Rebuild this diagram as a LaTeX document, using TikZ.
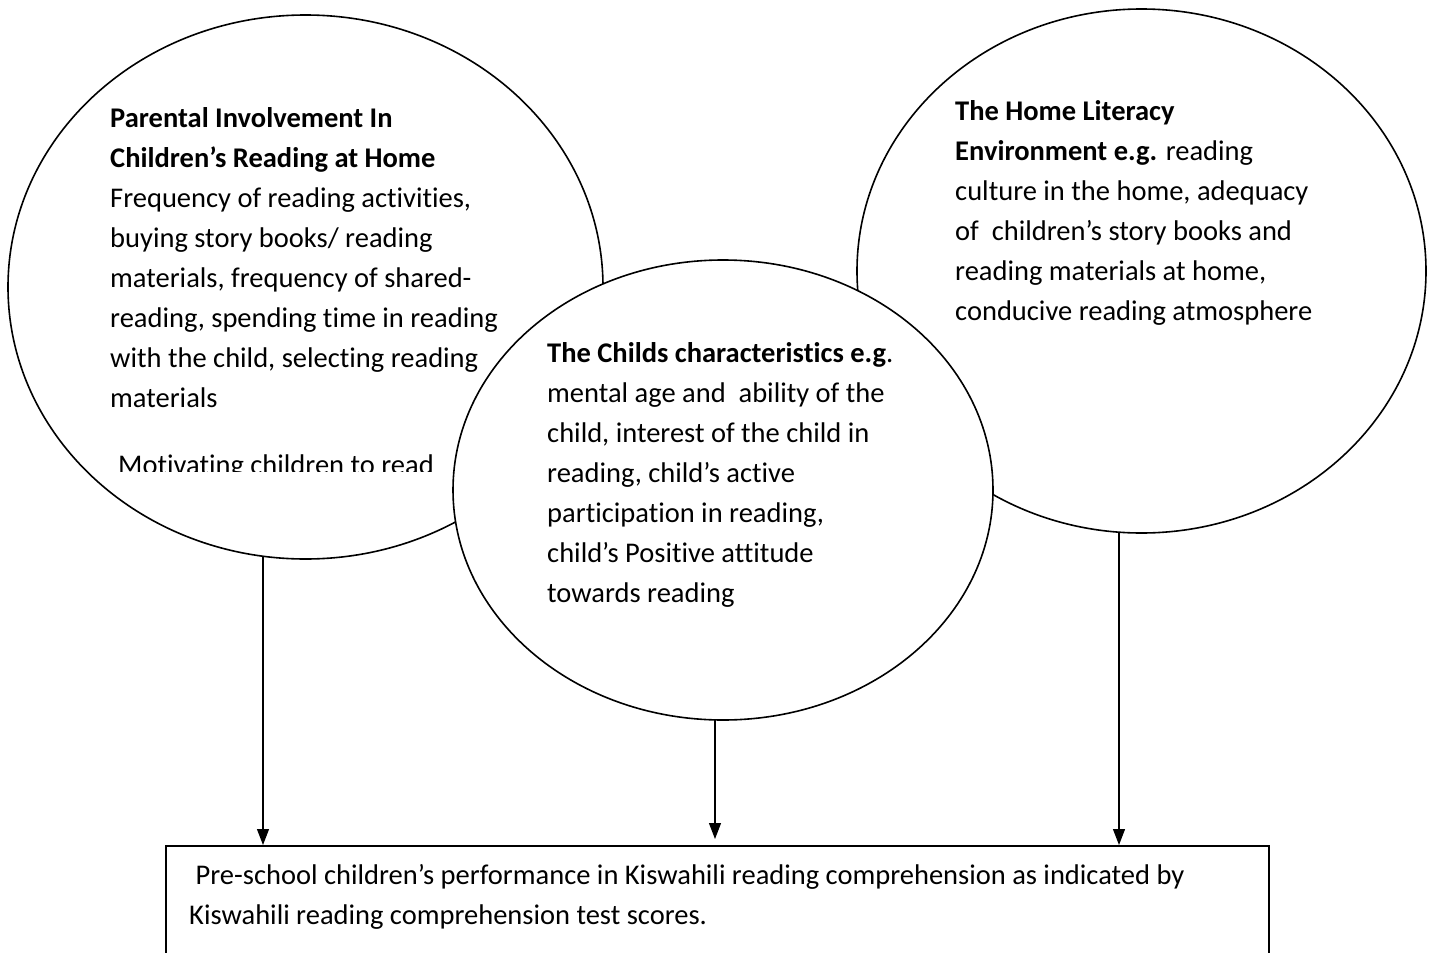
\documentclass[tikz,border=0pt]{standalone}
\usepackage{fontspec}
\setmainfont{Carlito}[Ligatures={NoCommon,NoContextual}]
\usetikzlibrary{shapes.geometric,arrows.meta}
\begin{document}
\begin{tikzpicture}[x=1pt,y=-1pt,
  bub/.style={ellipse,draw,line width=1.6pt,inner sep=0pt,fill=white},
  txt/.style={anchor=base west,inner sep=0pt,font=\fontsize{28.5}{40}\selectfont},
  arr/.style={line width=1.2pt,-{Triangle[length=16pt,width=12pt]}},
  outbox/.style={draw,line width=2pt,rectangle,anchor=north west,inner sep=0pt}
]
\useasboundingbox (0,0) rectangle (1433,953);
\clip (0,0) rectangle (1433,953);
\fill[white] (0,0) rectangle (1433,953);

% left ellipse
\node[bub,minimum width=595pt,minimum height=544pt] (L) at (305.5,287) {};
\node[txt] (Lt) at (110,127.5) {\vtop{%
\hbox{\bfseries Parental Involvement In}
\hbox{\bfseries Children’s Reading at Home}
\hbox{Frequency of reading activities,}
\hbox{buying story books/ reading}
\hbox{materials, frequency of shared-}
\hbox{reading, spending time in reading}
\hbox{with the child, selecting reading}
\hbox{materials}}};
\begin{scope}
\clip (0,0) rectangle (600,471.5);
\node[txt] (Lm) at (118,474.5) {Motivating children to read};
\end{scope}

% right ellipse
\node[bub,minimum width=569pt,minimum height=524pt] (R) at (1141.5,271) {};
\node[txt] (Rt) at (955,120.5) {\vtop{%
\hbox{\bfseries The Home Literacy}
\hbox{{\bfseries Environment e.g.} reading}
\hbox{culture in the home, adequacy}
\hbox{of\ \ children’s story books and}
\hbox{reading materials at home,}
\hbox{conducive reading atmosphere}}};

% middle ellipse
\node[bub,minimum width=540pt,minimum height=460pt] (M) at (723,490) {};
\node[txt] (Mt) at (547,362) {\vtop{%
\hbox{{\bfseries The Childs characteristics e.g}.}
\hbox{mental age and\ \ ability of the}
\hbox{child, interest of the child in}
\hbox{reading, child’s active}
\hbox{participation in reading,}
\hbox{child’s Positive attitude}
\hbox{towards reading}}};

% outcome box
\node[outbox,minimum width=1103pt,minimum height=160pt] (B) at (165,845) {};
\node[txt] (Bt) at (189,884) {\vtop{%
\hbox{\ Pre-school children’s performance in Kiswahili reading comprehension as indicated by}
\hbox{Kiswahili reading comprehension test scores.}}};

% arrows
\coordinate (a1) at (263,556);
\coordinate (a2) at (715,720);
\coordinate (a3) at (1119,532);
\draw[arr] (a1) -- (a1 |- B.north);
\draw[arr] (a2) -- ([yshift=6pt]a2 |- B.north);
\draw[arr] (a3) -- (a3 |- B.north);
\end{tikzpicture}
\end{document}
